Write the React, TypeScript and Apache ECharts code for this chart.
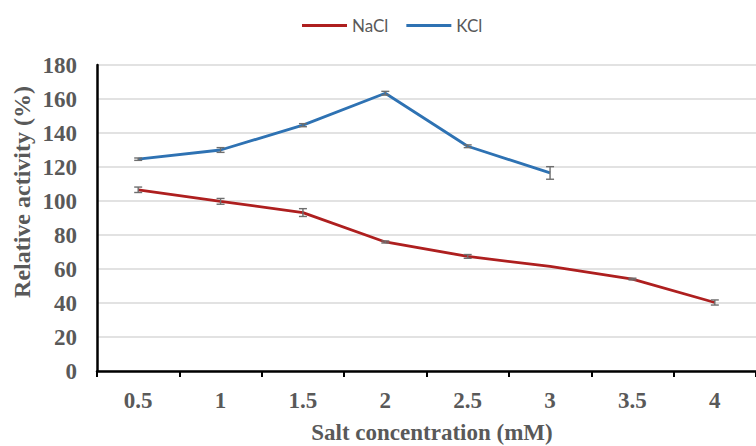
import React, { useEffect, useRef } from "react";
import * as echarts from "echarts";

// Salt concentrations (mM) on the category axis
const categories = ["0.5", "1", "1.5", "2", "2.5", "3", "3.5", "4"];

// Relative activity (%) with standard deviations
const naclValues = [106.6, 99.8, 93.2, 75.9, 67.4, 61.5, 54.1, 40.3];
const naclErrors = [1.6, 1.7, 2.3, 0.6, 1.1, 0, 0.5, 1.5];
const kclValues = [124.6, 130.0, 144.6, 163.4, 132.2, 116.5];
const kclErrors = [0.7, 1.4, 0.9, 1.1, 0.8, 3.7];

const yTicks = { min: 0, max: 180, interval: 20 };

const SERIF = '"Liberation Serif", "Times New Roman", serif';
const TEXT_GREY = "#595959";
const NACL_COLOR = "#AE1F1F";
const KCL_COLOR = "#2E72B3";

function errorSeries(values: number[], errors: number[]) {
  return {
    type: "custom",
    z: 5,
    silent: true,
    encode: { x: 0, y: 1 },
    data: values.map((v, i) => [i, v, errors[i]]),
    renderItem: (_params: any, api: any) => {
      const idx = api.value(0);
      const v = api.value(1);
      const e = api.value(2);
      if (!e) return null;
      const hi = api.coord([idx, v + e]);
      const lo = api.coord([idx, v - e]);
      const cap = 4;
      const style = { stroke: "#6E6E6E", lineWidth: 1.4 };
      return {
        type: "group",
        children: [
          { type: "line", shape: { x1: hi[0], y1: hi[1], x2: lo[0], y2: lo[1] }, style },
          { type: "line", shape: { x1: hi[0] - cap, y1: hi[1], x2: hi[0] + cap, y2: hi[1] }, style },
          { type: "line", shape: { x1: lo[0] - cap, y1: lo[1], x2: lo[0] + cap, y2: lo[1] }, style },
        ],
      };
    },
  };
}

export default function App() {
  const ref = useRef<HTMLDivElement>(null);

  useEffect(() => {
    if (!ref.current) return;
    const chart = echarts.init(ref.current, null, { renderer: "svg" });
    chart.setOption({
      animation: false,
      backgroundColor: "#ffffff",
      grid: { left: 97, right: -8, top: 65, bottom: 75, containLabel: false },
      legend: {
        left: 297,
        top: 12,
        itemWidth: 45,
        itemHeight: 3,
        itemGap: 18,
        icon: "rect",
        data: ["NaCl", "KCl"],
        textStyle: { fontFamily: "Lato, sans-serif", fontSize: 17, color: TEXT_GREY, padding: [0, 0, 0, 0] },
      },
      xAxis: {
        type: "category",
        data: categories,
        boundaryGap: true,
        axisLine: { lineStyle: { color: "#000", width: 2.5 } },
        axisTick: { show: true, length: 6, lineStyle: { color: "#000", width: 2 } },
        axisLabel: { margin: 18, fontFamily: SERIF, fontWeight: "bold", fontSize: 23, color: TEXT_GREY },
        splitLine: { show: false },
      },
      yAxis: {
        type: "value",
        min: yTicks.min,
        max: yTicks.max,
        interval: yTicks.interval,
        axisLine: { show: true, lineStyle: { color: "#000", width: 2.5 } },
        axisTick: { show: false },
        axisLabel: { margin: 20, fontFamily: SERIF, fontWeight: "bold", fontSize: 23, color: TEXT_GREY },
        splitLine: { lineStyle: { color: "#D9D9D9", width: 1.5 } },
      },
      graphic: [
        {
          type: "text",
          x: 22,
          y: 192,
          rotation: Math.PI / 2,
          style: {
            text: "Relative activity (%)",
            font: `bold 24px ${SERIF}`,
            fill: TEXT_GREY,
            align: "center",
            verticalAlign: "middle",
          },
        },
        {
          type: "text",
          x: 432,
          y: 432,
          style: {
            text: "Salt concentration (mM)",
            font: `bold 23px ${SERIF}`,
            fill: TEXT_GREY,
            align: "center",
            verticalAlign: "middle",
          },
        },
      ],
      series: [
        {
          name: "NaCl",
          type: "line",
          data: naclValues,
          showSymbol: false,
          symbol: "none",
          lineStyle: { color: NACL_COLOR, width: 2.8 },
          itemStyle: { color: NACL_COLOR },
          z: 3,
        },
        {
          name: "KCl",
          type: "line",
          data: kclValues,
          showSymbol: false,
          symbol: "none",
          lineStyle: { color: KCL_COLOR, width: 2.8 },
          itemStyle: { color: KCL_COLOR },
          z: 3,
        },
        errorSeries(naclValues, naclErrors),
        errorSeries(kclValues, kclErrors),
      ],
    });
    return () => chart.dispose();
  }, []);

  return (
    <div
      ref={ref}
      style={{ position: "fixed", left: 0, top: 0, width: 756, height: 446, background: "#fff" }}
    />
  );
}
